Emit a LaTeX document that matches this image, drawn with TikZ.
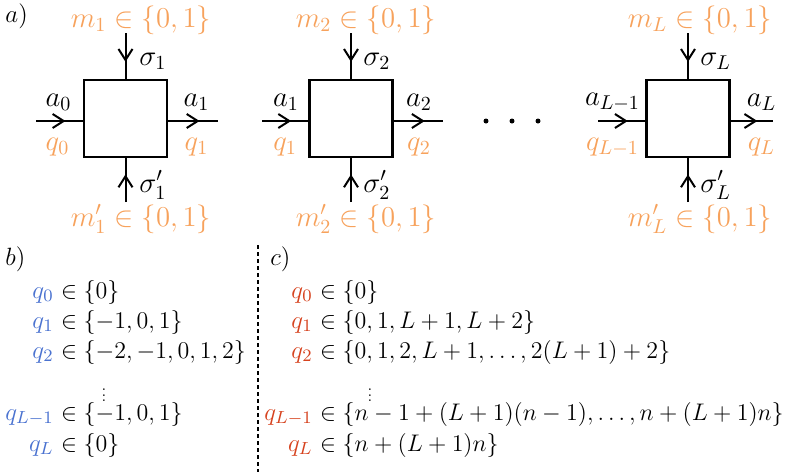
\RequirePackage{fix-cm}
\documentclass[tikz,border=0pt]{standalone}
\usepackage{graphicx}
\usetikzlibrary{arrows.meta,decorations.markings}
\definecolor{qorange}{RGB}{247,162,92}
\definecolor{qblue}{RGB}{74,114,208}
\definecolor{qred}{RGB}{214,66,30}
\tikzset{
  flow/.style={line width=1pt, postaction={decorate},
    decoration={markings, mark=at position 0.63 with {\arrow{Straight Barb[length=5.5pt,width=7pt,line width=1pt]}}}},
  cell/.style={draw, line width=1.2pt, minimum width=41.5pt, minimum height=38.5pt, inner sep=0pt},
  lab/.style={inner sep=0pt, font=\fontsize{14.4}{17}\selectfont},
  olab/.style={lab, text=qorange},
  row/.style={inner sep=0pt, anchor=base west, font=\fontsize{12}{14}\selectfont},
  bq/.style={inner sep=0pt, anchor=base east, font=\fontsize{12.5}{14}\selectfont, text=qblue},
  rq/.style={inner sep=0pt, anchor=base east, font=\fontsize{12.5}{14}\selectfont, text=qred},
  tag/.style={inner sep=0pt, anchor=base west, font=\fontsize{12.5}{15}\selectfont},
  dotn/.style={circle, fill, inner sep=0pt, minimum size=2.5pt},
  vd/.style={inner sep=0pt, font=\fontsize{12}{14}\selectfont},
  sep/.style={line width=0.8pt, dash pattern=on 2pt off 1.5pt}
}
\begin{document}
\begin{tikzpicture}[x=0.5pt,y=-0.5pt]
\useasboundingbox (0,0) rectangle (789,472);
% ---------- a) ----------
\node[tag] (ta) at (5,22) {$a)$};
% box 1
\node[cell] (B1) at (125.5,118.5) {};
\coordinate (t1) at (125.5,33);
\coordinate (b1) at (125.5,202);
\coordinate (l1) at (36,121);
\coordinate (r1) at (218,121);
\draw[flow] (t1) -- (B1.north);
\draw[flow] (b1) -- (B1.south);
\draw[flow] (l1) -- (l1 -| B1.west);
\draw[flow] (r1 -| B1.east) -- (r1);
\node[olab] (m1) at (141,20) {$m_1\in\{0,1\}$};
\node[olab] (mp1) at (141,219) {$m'_1\in\{0,1\}$};
\node[lab, anchor=west] (s1) at (139,61) {$\sigma_1$};
\node[lab, anchor=west] (sp1) at (139,185) {$\sigma'_1$};
\node[lab] (a0) at (58.5,102) {$a_0$};
\node[olab] (q0) at (57.5,147) {$q_0$};
\node[lab] (a1) at (196.5,102) {$a_1$};
\node[olab] (q1) at (196.5,147) {$q_1$};
% box 2
\node[cell] (B2) at (351,118.5) {};
\coordinate (t2) at (351,33);
\coordinate (b2) at (351,202);
\coordinate (l2) at (262,121);
\coordinate (r2) at (443,121);
\draw[flow] (t2) -- (B2.north);
\draw[flow] (b2) -- (B2.south);
\draw[flow] (l2) -- (l2 -| B2.west);
\draw[flow] (r2 -| B2.east) -- (r2);
\node[olab] (m2) at (366,20) {$m_2\in\{0,1\}$};
\node[olab] (mp2) at (366,219) {$m'_2\in\{0,1\}$};
\node[lab, anchor=west] (s2) at (363,61) {$\sigma_2$};
\node[lab, anchor=west] (sp2) at (363,185) {$\sigma'_2$};
\node[lab] (a1b) at (286,102) {$a_1$};
\node[olab] (q1b) at (285,147) {$q_1$};
\node[lab] (a2) at (419,102) {$a_2$};
\node[olab] (q2) at (419,147) {$q_2$};
% dots
\node[dotn] (d1) at (486,121) {};
\node[dotn] (d2) at (512,121) {};
\node[dotn] (d3) at (538,121) {};
% box L
\node[cell] (BL) at (688,118.5) {};
\coordinate (tL) at (688,33);
\coordinate (bL) at (688,202);
\coordinate (lL) at (598,121);
\coordinate (rL) at (773,121);
\draw[flow] (tL) -- (BL.north);
\draw[flow] (bL) -- (BL.south);
\draw[flow] (lL) -- (lL -| BL.west);
\draw[flow] (rL -| BL.east) -- (rL);
\node[olab] (mL) at (700,20) {$m_L\in\{0,1\}$};
\node[olab] (mpL) at (700,219) {$m'_L\in\{0,1\}$};
\node[lab, anchor=west] (sL) at (700,61) {$\sigma_L$};
\node[lab, anchor=west] (spL) at (700,185) {$\sigma'_L$};
\node[lab] (aLm) at (612.5,102) {$a_{L-1}$};
\node[olab] (qLm) at (612.5,147) {$q_{L-1}$};
\node[lab] (aL) at (761.5,102) {$a_L$};
\node[olab] (qL) at (761.5,147) {$q_L$};
% ---------- separator ----------
\coordinate (sepT) at (258,245);
\coordinate (sepB) at (258,472);
\draw[sep] (sepT) -- (sepB);
% ---------- b) ----------
\node[tag] (tb) at (5,265) {$b)$};
\node[bq] (bq0) at (54,298) {$q_0$};
\node[row] (b0) at (54,298) {${}\in\{0\}$};
\node[bq] (bq1) at (54,328) {$q_1$};
\node[row] (b1r) at (54,328) {${}\in\{-1,0,1\}$};
\node[bq] (bq2) at (54,358) {$q_2$};
\node[row] (b2r) at (54,358) {${}\in\{-2,-1,0,1,2\}$};
\node[vd] (bv) at (104,391) {\scalebox{0.72}{$\vdots$}};
\node[bq] (bq3) at (54,420) {$q_{L-1}$};
\node[row] (b3r) at (54,420) {${}\in\{-1,0,1\}$};
\node[bq] (bq4) at (54,451) {$q_L$};
\node[row] (b4r) at (54,451) {${}\in\{0\}$};
% ---------- c) ----------
\node[tag] (tc) at (270,265) {$c)$};
\node[rq] (cq0) at (313,298) {$q_0$};
\node[row] (c0) at (313,298) {${}\in\{0\}$};
\node[rq] (cq1) at (313,328) {$q_1$};
\node[row] (c1r) at (313,328) {${}\in\{0,1,L+1,L+2\}$};
\node[rq] (cq2) at (313,358) {$q_2$};
\node[row] (c2r) at (313,358) {${}\in\{0,1,2,L+1,\ldots,2(L+1)+2\}$};
\node[vd] (cv) at (370,391) {\scalebox{0.72}{$\vdots$}};
\node[rq] (cq3) at (313,420) {$q_{L-1}$};
\node[row] (c3r) at (313,420) {${}\in\{n-1+(L+1)(n-1),\ldots,n+(L+1)n\}$};
\node[rq] (cq4) at (313,451) {$q_L$};
\node[row] (c4r) at (313,451) {${}\in\{n+(L+1)n\}$};
\end{tikzpicture}
\end{document}
